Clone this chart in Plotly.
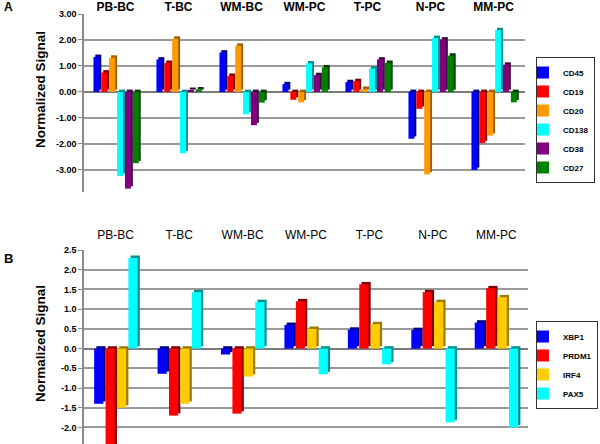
import plotly.graph_objects as go
import numpy as np

# ---------------- data ----------------
categories = ["PB-BC", "T-BC", "WM-BC", "WM-PC", "T-PC", "N-PC", "MM-PC"]

# Panel A
markers_a = ["CD45", "CD19", "CD20", "CD138", "CD38", "CD27"]
cd45 = [1.35, 1.25, 1.52, 0.30, 0.38, -1.80, -3.00]
cd19 = [0.75, 1.12, 0.62, -0.30, 0.42, -0.65, -1.97]
cd20 = [1.32, 2.05, 1.78, -0.40, 0.12, -3.17, -1.68]
cd138 = [-3.23, -2.36, -0.86, 1.10, 0.90, 2.08, 2.38]
cd38 = [-3.72, 0.08, -1.28, 0.65, 1.25, 2.02, 1.05]
cd27 = [-2.74, 0.10, -0.41, 0.95, 1.12, 1.40, -0.40]
values_a = [cd45, cd19, cd20, cd138, cd38, cd27]
ticks_a = [-3.0, -2.0, -1.0, 0.0, 1.0, 2.0, 3.0]

# Panel B
markers_b = ["XBP1", "PRDM1", "IRF4", "PAX5"]
xbp1 = [-1.40, -0.64, -0.15, 0.60, 0.48, 0.47, 0.66]
prdm1 = [-2.70, -1.70, -1.65, 1.20, 1.63, 1.43, 1.53]
irf4 = [-1.50, -1.40, -0.71, 0.50, 0.62, 1.18, 1.30]
pax5 = [2.30, 1.43, 1.18, -0.65, -0.40, -1.87, -2.00]
values_b = [xbp1, prdm1, irf4, pax5]
ticks_b = [-2.0, -1.5, -1.0, -0.5, 0.0, 0.5, 1.0, 1.5, 2.0, 2.5]

# ---------------- styles ----------------
colors_a = ["#0000FF", "#FF0000", "#FF9900", "#00FFFF", "#800080", "#008000"]
dark_a = ["#000080", "#800000", "#9C5E00", "#009090", "#3C003C", "#003C00"]
colors_b = ["#0000FF", "#FF0000", "#FFCC00", "#00FFFF"]
dark_b = ["#000080", "#800000", "#9C7A00", "#009090"]

FONT = "Arial, Liberation Sans, sans-serif"
GRID = "#9a9a9a"

x = np.arange(len(categories))
fig = go.Figure()


def add_panel(names, values, cols, darks, slot, start, depth_x, depth_y,
              xa, ya, legend):
    for i, (name, vals, c, d) in enumerate(zip(names, values, cols, darks)):
        off = start + i * slot
        # side / top shading (3-D look)
        fig.add_trace(go.Bar(
            x=x, y=vals, base=depth_y, offset=off + depth_x,
            width=slot - depth_x, marker=dict(color=d, line=dict(width=0)),
            xaxis=xa, yaxis=ya, showlegend=False, hoverinfo="skip",
            legend=legend))
        # front face
        fig.add_trace(go.Bar(
            x=x, y=vals, name=name, offset=off, width=slot - depth_x,
            marker=dict(color=c, line=dict(width=0)),
            xaxis=xa, yaxis=ya, legend=legend))


add_panel(markers_a, values_a, colors_a, dark_a, 0.125, -0.35, 0.03, 0.09,
          "x", "y", "legend")
add_panel(markers_b, values_b, colors_b, dark_b, 0.18, -0.34, 0.035, 0.06,
          "x2", "y2", "legend2")

axis_common = dict(showgrid=False, zeroline=False, ticks="", showline=False,
                   side="top", range=[-0.5, 6.5], tickvals=list(x),
                   ticktext=categories, automargin=False)

yaxis_common = dict(tickfont=dict(size=9, weight="bold", family=FONT),
                    showgrid=True, gridcolor=GRID, gridwidth=1.5,
                    zeroline=True, zerolinecolor="#7a7a7a", zerolinewidth=1.5,
                    showline=True, linecolor="#8a8a8a", linewidth=1.5,
                    ticks="outside", ticklen=4, tickcolor="#8a8a8a",
                    automargin=False)

legend_common = dict(xanchor="left", yanchor="middle",
                     bordercolor="#333333", borderwidth=1, bgcolor="white",
                     font=dict(size=8, weight="bold", family=FONT),
                     itemwidth=30, tracegroupgap=0, indentation=-14)

fig.update_layout(
    width=600, height=444,
    margin=dict(l=0, r=0, t=0, b=0),
    paper_bgcolor="white", plot_bgcolor="white",
    barmode="overlay",
    font=dict(family=FONT, color="black"),
    xaxis=dict(axis_common, domain=[84 / 600, 525 / 600], anchor="y",
               tickfont=dict(size=12, weight="bold", family=FONT)),
    yaxis=dict(yaxis_common, domain=[1 - 192 / 444, 1 - 14 / 444],
               range=[-3.85, 3.0], tickvals=ticks_a,
               ticktext=["%.2f" % t for t in ticks_a], anchor="x"),
    xaxis2=dict(axis_common, domain=[84 / 600, 528 / 600], anchor="y2",
                ticklabelstandoff=8,
                tickfont=dict(size=12, family=FONT)),
    yaxis2=dict(yaxis_common, domain=[0.0, 1 - 250 / 444],
                range=[-2.42, 2.5], tickvals=ticks_b,
                ticktext=["%.1f" % t for t in ticks_b], anchor="x2"),
    legend=dict(legend_common, x=536 / 600, y=1 - 120 / 444),
    legend2=dict(legend_common, x=536 / 600, y=1 - 365 / 444),
    annotations=[
        dict(text="A", x=8 / 600, y=1 - 7 / 444, xref="paper", yref="paper",
             xanchor="center", yanchor="middle",
             showarrow=False, font=dict(size=12, weight="bold")),
        dict(text="B", x=8 / 600, y=1 - 258 / 444, xref="paper", yref="paper",
             xanchor="center", yanchor="middle",
             showarrow=False, font=dict(size=13, weight="bold")),
        dict(text="Normalized Signal", x=40 / 600, y=1 - 90 / 444,
             xref="paper", yref="paper", textangle=-90, showarrow=False,
             xanchor="center", yanchor="middle",
             font=dict(size=13.5, weight="bold")),
        dict(text="Normalized Signal", x=40 / 600, y=1 - 344 / 444,
             xref="paper", yref="paper", textangle=-90, showarrow=False,
             xanchor="center", yanchor="middle",
             font=dict(size=13.5, weight="bold")),
    ],
)

fig.write_html("out.html",
               config={"displayModeBar": False},
               post_script="document.body.style.margin='0';"
                           "document.body.style.overflow='hidden';")
